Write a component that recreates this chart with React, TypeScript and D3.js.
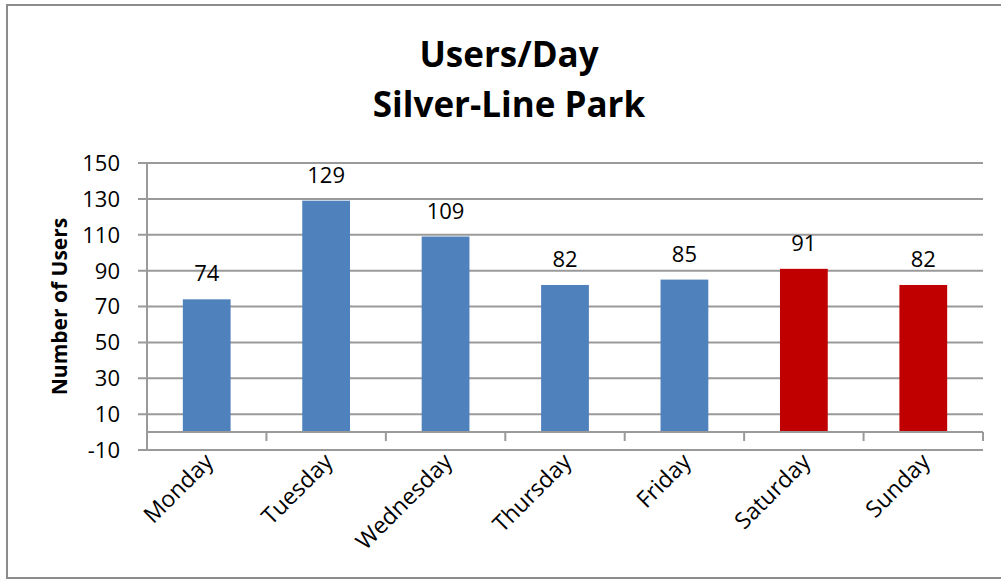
import React from "react";
import * as d3 from "d3";

const days = ["Monday", "Tuesday", "Wednesday", "Thursday", "Friday", "Saturday", "Sunday"];
const users = [74, 129, 109, 82, 85, 91, 82];
const weekend = [false, false, false, false, false, true, true];
const yTicks = [-10, 10, 30, 50, 70, 90, 110, 130, 150];
const titleLines = ["Users/Day", "Silver-Line Park"];
const yTitle = "Number of Users";

const W = 1001;
const H = 579;
const plot = { left: 147, right: 983, top: 163, bottom: 450 };
const FONT = "'Open Sans', sans-serif";

export default function App() {
  const x = d3.scaleBand<string>().domain(days).range([plot.left, plot.right]).padding(0);
  const y = d3.scaleLinear().domain([-10, 150]).range([plot.bottom, plot.top]);
  const bw = x.bandwidth() * 0.4;
  const y0 = y(0);
  const grid = "#9a9a9a";

  return (
    <svg
      width={W}
      height={H}
      style={{ position: "absolute", left: 0, top: 0, background: "#fff" }}
      fontFamily={FONT}
    >
      <rect x={7} y={5} width={1010} height={573} fill="#fff" stroke="#8c8c8c" strokeWidth={2} />

      {titleLines.map((t, i) => (
        <text
          key={t}
          x={509}
          y={67 + i * 50}
          textAnchor="middle"
          fontSize={35}
          fontWeight="bold"
          fill="#000"
        >
          {t}
        </text>
      ))}

      {yTicks.map((v) => (
        <g key={v}>
          <line x1={plot.left - 9} x2={plot.right} y1={y(v)} y2={y(v)} stroke={grid} strokeWidth={2} />
          <text x={120} y={y(v)} dy="0.36em" textAnchor="end" fontSize={22} fill="#000">
            {v}
          </text>
        </g>
      ))}

      <line x1={plot.left} x2={plot.left} y1={plot.top} y2={plot.bottom} stroke={grid} strokeWidth={2} />

      {days.map((d, i) => (
        <rect
          key={d}
          x={(x(d) as number) + (x.bandwidth() - bw) / 2}
          y={y(users[i])}
          width={bw}
          height={y0 - y(users[i])}
          fill={weekend[i] ? "#C00000" : "#4F81BD"}
        />
      ))}

      <line x1={plot.left} x2={plot.right} y1={y0} y2={y0} stroke={grid} strokeWidth={2} />
      {days.map((d) => (
        <line
          key={"t" + d}
          x1={(x(d) as number) + x.bandwidth()}
          x2={(x(d) as number) + x.bandwidth()}
          y1={y0}
          y2={y0 + 9}
          stroke={grid}
          strokeWidth={2}
        />
      ))}

      {days.map((d, i) => (
        <text
          key={"l" + d}
          x={(x(d) as number) + x.bandwidth() / 2}
          y={y(users[i]) - 18}
          textAnchor="middle"
          fontSize={22}
          fill="#000"
        >
          {users[i]}
        </text>
      ))}

      {days.map((d) => {
        const cx = (x(d) as number) + x.bandwidth() / 2 + 8;
        const cy = 463;
        return (
          <text
            key={"c" + d}
            transform={`translate(${cx},${cy}) rotate(-45)`}
            textAnchor="end"
            fontSize={23}
            fill="#000"
          >
            {d}
          </text>
        );
      })}

      <text
        transform={`translate(67,${(plot.top + plot.bottom) / 2}) rotate(-90)`}
        textAnchor="middle"
        fontSize={21}
        fontWeight="bold"
        fill="#000"
      >
        {yTitle}
      </text>
    </svg>
  );
}
